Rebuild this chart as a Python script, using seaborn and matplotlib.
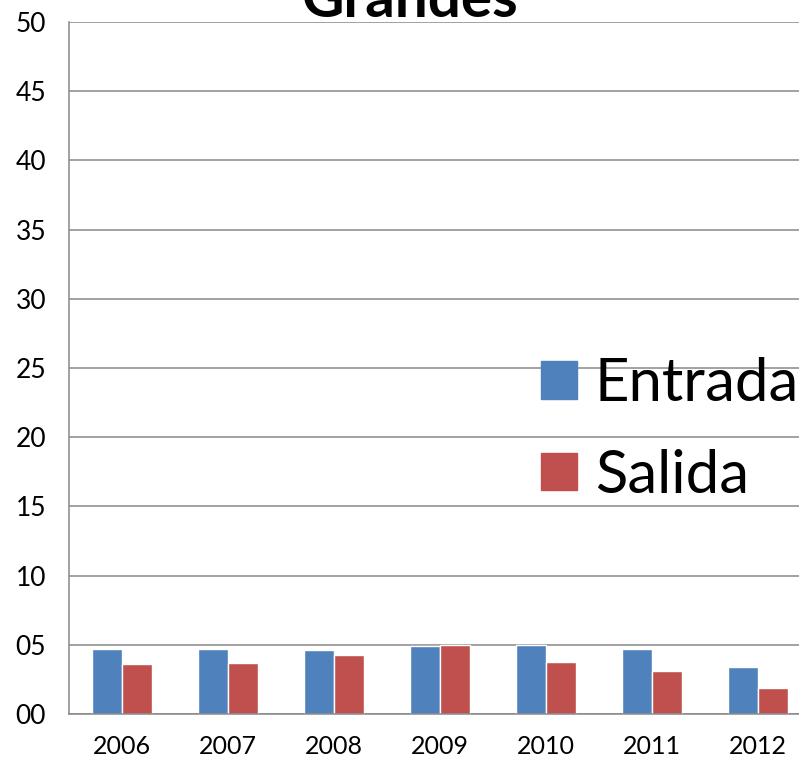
import pandas as pd
import seaborn as sns
import matplotlib.pyplot as plt
from matplotlib.patches import Patch
from matplotlib.ticker import FixedLocator, FuncFormatter

# Values
years = ['2006', '2007', '2008', '2009', '2010', '2011', '2012']
entrada = [4.67, 4.70, 4.62, 4.89, 4.99, 4.67, 3.37]
salida = [3.61, 3.68, 4.26, 4.96, 3.76, 3.11, 1.90]
series = ['Entrada', 'Salida']
colors = ['#4F81BD', '#C0504D']

df = pd.DataFrame({
    'Año': years * 2,
    'Valor': entrada + salida,
    'Serie': ['Entrada'] * len(years) + ['Salida'] * len(years),
})

sns.set_style('white')
plt.rcParams['font.family'] = ['Lato', 'DejaVu Sans']
plt.rcParams['text.color'] = 'black'

fig = plt.figure(figsize=(7.99, 7.58), dpi=100)
ax = fig.add_axes([69 / 799, 44 / 758, 742 / 799, 692 / 758])

sns.barplot(data=df, x='Año', y='Valor', hue='Serie', palette=colors,
            width=0.57, dodge=True, ax=ax, legend=False, saturation=1)

grid_col = '#888888'
ax.set_ylim(0, 50)
ax.set_xlim(-0.5, len(years) - 0.5)
ax.set_yticks(range(0, 51, 5))
ax.yaxis.set_major_formatter(FuncFormatter(lambda v, p: f'{int(v):02d}'))
ax.yaxis.grid(True, color=grid_col, linewidth=1.1)
ax.set_axisbelow(True)
ax.set_xlabel('')
ax.set_ylabel('')

# x ticks sit at the category boundaries, labels at the centres
ax.tick_params(axis='x', which='major', length=0, labelsize=18, pad=15, labelcolor='black')
ax.xaxis.set_minor_locator(FixedLocator([i - 0.5 for i in range(len(years) + 1)]))
ax.tick_params(axis='x', which='minor', length=7, width=1.1, color=grid_col, direction='out')
ax.tick_params(axis='y', length=6.5, width=1.1, color=grid_col, direction='out', labelsize=19,
               pad=10, labelcolor='black')

for side in ['top', 'right']:
    ax.spines[side].set_visible(False)
for side in ['left', 'bottom']:
    ax.spines[side].set_color(grid_col)
    ax.spines[side].set_linewidth(1.1)

handles = [Patch(color=c, label=s) for c, s in zip(colors, series)]
fig.legend(handles=handles, loc='center left', bbox_to_anchor=(541 / 799, 1 - 430 / 758),
           frameon=False, fontsize=43, handlelength=0.6, handleheight=0.6,
           handletextpad=0.3, labelspacing=0.62, borderpad=0, borderaxespad=0)

fig.text(410 / 799, 1 - 17 / 758, 'Grandes', ha='center', va='baseline',
         fontsize=42, fontweight='bold')

plt.savefig('out.png', dpi=100)
